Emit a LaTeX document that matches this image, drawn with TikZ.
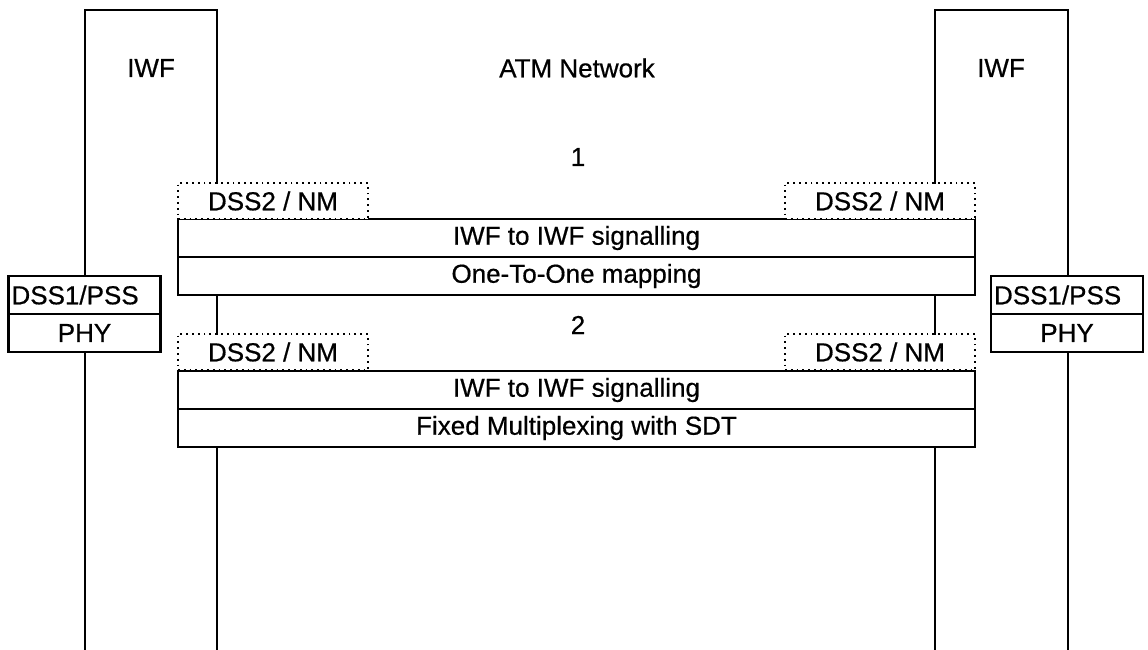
\documentclass[tikz,border=0pt]{standalone}
\usepackage{fontspec}
\setmainfont{Liberation Sans}[FakeBold=0.6]
\begin{document}
\begin{tikzpicture}[x=1pt,y=-1pt,
  every node/.style={font=\fontsize{26}{30}\selectfont, inner sep=0pt},
  line/.style={line width=2.8pt, line cap=rect},
  layer/.style={draw, line width=2.8pt, minimum width=797pt, minimum height=38pt},
  dotbox/.style={draw, fill=white, line width=1.8pt, dash pattern=on 1.8pt off 4pt, minimum width=190pt, minimum height=36pt},
  stackbox/.style={draw, line width=2.8pt, minimum width=152pt, minimum height=38pt},
  leftbox/.style={stackbox, inner xsep=3pt, text width=146pt, align=left},
  lbl/.style={}]
\useasboundingbox (0,0) rectangle (1148,650);
% corner coordinates
\coordinate (LTL) at (85,10);  \coordinate (LTR) at (217,10);
\coordinate (LBL) at (85,650); \coordinate (LBR) at (217,650);
\coordinate (RTL) at (935,10); \coordinate (RTR) at (1068,10);
\coordinate (RBL) at (935,650); \coordinate (RBR) at (1068,650);
% labels
\node[lbl] (iwfL) at (151,68) {IWF};
\node[lbl] (iwfR) at (1001,68) {IWF};
\node[lbl] (atm) at (577,68) {ATM Network};
\node[lbl] (n1) at (578,157) {1};
\node[lbl] (n2) at (578,325) {2};
% layer stacks
\node[layer] (layA1) at (576.5,238) {IWF to IWF signalling};
\node[layer] (layA2) at (576.5,276) {One-To-One mapping};
\node[layer] (layB1) at (576.5,390) {IWF to IWF signalling};
\node[layer] (layB2) at (576.5,428) {Fixed Multiplexing with SDT};
% dotted boxes
\node[dotbox] (dA1) at (273,201) {DSS2 / NM};
\node[dotbox] (dA2) at (880,201) {DSS2 / NM};
\node[dotbox] (dB1) at (273,352) {DSS2 / NM};
\node[dotbox] (dB2) at (880,352) {DSS2 / NM};
% DSS1/PSS stacks
\node[leftbox] (dssL) at (84.5,295) {DSS1/PSS};
\node[stackbox] (phyL) at (84.5,333) {PHY};
\node[leftbox] (dssR) at (1067,295) {DSS1/PSS};
\node[stackbox] (phyR) at (1067,333) {PHY};
% left IWF
\draw[line] (dssL.north -| LTL) -- (LTL) -- (LTR) -- (LTR |- dA1.north);
\draw[line] (phyL.south -| LBL) -- (LBL);
\draw[line] (layA2.south -| LTR) -- (LTR |- dB1.north);
\draw[line] (layB2.south -| LBR) -- (LBR);
% right IWF
\draw[line] (dA2.north -| RTL) -- (RTL) -- (RTR) -- (RTR |- dssR.north);
\draw[line] (phyR.south -| RBR) -- (RBR);
\draw[line] (layA2.south -| RTL) -- (RTL |- dB2.north);
\draw[line] (layB2.south -| RBL) -- (RBL);
\end{tikzpicture}
\end{document}
